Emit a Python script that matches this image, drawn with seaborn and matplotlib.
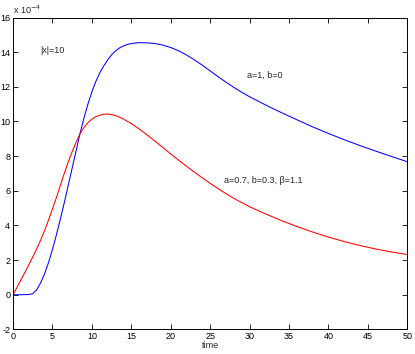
import numpy as np
import pandas as pd
import matplotlib
matplotlib.use("Agg")
import matplotlib.pyplot as plt
import seaborn as sns

# valores (unidades de 1e-4)
t_azul = [0, 1, 2, 2.5, 3, 3.5, 4, 4.5, 5, 5.5, 6, 6.5, 7, 7.5, 8, 8.5, 9, 9.5, 10,
          10.5, 11, 11.5, 12, 12.5, 13, 13.5, 14, 14.5, 15, 16, 17, 18, 19, 20, 21, 22,
          23, 24, 25, 26, 27, 28, 29, 30, 32, 34, 36, 38, 40, 42, 44, 46, 48, 50]
y_azul = [0, 0, 0.01, 0.06, 0.28, 0.68, 1.2, 1.85, 2.6, 3.45, 4.35, 5.3, 6.3, 7.3, 8.3,
          9.3, 10.2, 11.0, 11.7, 12.3, 12.8, 13.2, 13.55, 13.84, 14.07, 14.24, 14.36,
          14.44, 14.5, 14.55, 14.54, 14.5, 14.41, 14.27, 14.08, 13.84, 13.56, 13.25,
          12.92, 12.59, 12.27, 11.97, 11.69, 11.43, 10.96, 10.52, 10.1, 9.69, 9.31,
          8.95, 8.61, 8.29, 7.98, 7.68]

t_rojo = [0, 0.5, 1, 1.5, 2, 2.5, 3, 3.5, 4, 4.5, 5, 5.5, 6, 6.5, 7, 7.5, 8, 8.5, 9,
          9.5, 10, 10.5, 11, 11.5, 12, 12.5, 13, 13.5, 14, 15, 16, 17, 18, 19, 20, 21,
          22, 23, 24, 25, 26, 27, 28, 29, 30, 32, 34, 36, 38, 40, 42, 44, 46, 48, 50]
y_rojo = [0, 0.42, 0.85, 1.28, 1.72, 2.17, 2.65, 3.15, 3.7, 4.3, 4.95, 5.6, 6.3, 7.0,
          7.65, 8.25, 8.8, 9.3, 9.65, 9.93, 10.13, 10.27, 10.36, 10.42, 10.43, 10.4,
          10.34, 10.25, 10.14, 9.88, 9.57, 9.23, 8.87, 8.5, 8.13, 7.77, 7.42, 7.08,
          6.75, 6.43, 6.13, 5.84, 5.57, 5.32, 5.08, 4.67, 4.29, 3.94, 3.62, 3.33, 3.07,
          2.84, 2.64, 2.47, 2.32]

x_ticks = [0, 5, 10, 15, 20, 25, 30, 35, 40, 45, 50]
y_ticks = [-2, 0, 2, 4, 6, 8, 10, 12, 14, 16]

sns.set_style("white")
plt.rcParams["font.family"] = ["Liberation Sans", "DejaVu Sans"]
plt.rcParams["axes.unicode_minus"] = False

df_azul = pd.DataFrame({"time": t_azul, "y": y_azul})
df_rojo = pd.DataFrame({"time": t_rojo, "y": y_rojo})

fig = plt.figure(figsize=(4.15, 3.54), dpi=100)
ax = fig.add_axes([0.0313, 0.0695, 0.95, 0.881])

sns.lineplot(data=df_azul, x="time", y="y", color="#0000ff", linewidth=0.75, ax=ax)
sns.lineplot(data=df_rojo, x="time", y="y", color="#ff0000", linewidth=0.75, ax=ax)

ax.set_xlim(0, 50)
ax.set_ylim(-2, 16)
ax.set_xticks(x_ticks)
ax.set_yticks(y_ticks)
ax.tick_params(direction="in", length=3.5, width=0.6, labelsize=6.5, pad=2,
               top=True, right=True, bottom=True, left=True, colors="black")
for s in ax.spines.values():
    s.set_color("black")
    s.set_linewidth(0.7)
ax.set_xlabel("time", fontsize=6.5, labelpad=0)
ax.set_ylabel("")

ax.text(0.0, 1.005, "x 10$^{-4}$", transform=ax.transAxes, fontsize=6.5, va="bottom", ha="left")
ax.text(3.4, 14.08, "|x|=10", fontsize=6.5, va="center")
ax.text(29.7, 12.68, "a=1, b=0", fontsize=6.5, va="center")
ax.text(26.7, 6.62, "a=0.7, b=0.3, β=1.1", fontsize=6.5, va="center")

fig.savefig("out.png", dpi=100)
